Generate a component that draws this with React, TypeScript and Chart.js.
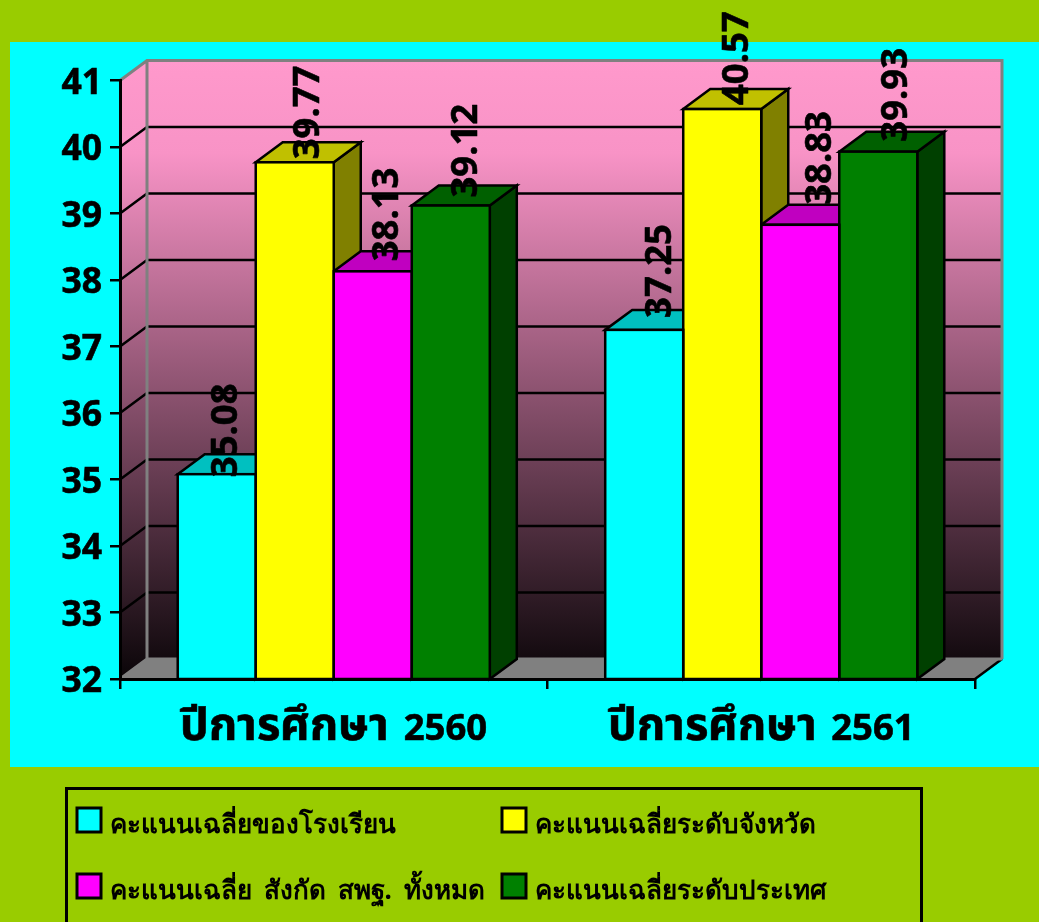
import React, { useEffect, useRef } from "react";
import { Chart, registerables } from "chart.js";

Chart.register(...registerables);

const categories = ["ปีการศึกษา 2560", "ปีการศึกษา 2561"];
const schoolScores = [35.08, 37.25];
const provinceScores = [39.77, 40.57];
const areaScores = [38.13, 38.83];
const nationScores = [39.12, 39.93];
const seriesNames = [
  "คะแนนเฉลี่ยของโรงเรียน",
  "คะแนนเฉลี่ยระดับจังหวัด",
  "คะแนนเฉลี่ย สังกัด สพฐ. ทั้งหมด",
  "คะแนนเฉลี่ยระดับประเทศ",
];
const frontColors = ["#00FFFF", "#FFFF00", "#FF00FF", "#008000"];
const topColors = ["#00C0C0", "#C0C000", "#C000C0", "#006000"];
const sideColors = ["#008080", "#808000", "#800080", "#004000"];
// hand placement of the value labels relative to each bar
const labelDx = [[10, 16], [14, 15], [15, 20], [16, 18]];
const labelDy = [[3, -12], [-3, -4], [-10, -20], [-8, -10]];

const DX = 27;
const DY = -20;
const FONT = '"Noto Sans", sans-serif';
const XFONT = 'ThaiWide, "Noto Sans", sans-serif';

const scene = {
  id: "scene",
  beforeDraw(chart: any) {
    const { ctx, chartArea: a, scales } = chart;
    const y = scales.y;
    ctx.wordSpacing = "5px";
    ctx.save();
    ctx.fillStyle = "#99CC00";
    ctx.fillRect(0, 0, chart.width, chart.height);
    ctx.fillStyle = "#00FFFF";
    ctx.fillRect(10, 42, chart.width - 10, 725);

    const g = ctx.createLinearGradient(0, a.top + DY, 0, a.bottom);
    g.addColorStop(0, "#FF99CC");
    g.addColorStop(0.15, "#F893C6");
    g.addColorStop(1, "#0A0508");
    ctx.fillStyle = g;
    ctx.fillRect(a.left + DX, a.top + DY, a.right - a.left, a.bottom - a.top);

    ctx.beginPath();
    ctx.moveTo(a.left, a.top);
    ctx.lineTo(a.left + DX, a.top + DY);
    ctx.lineTo(a.left + DX, a.bottom + DY);
    ctx.lineTo(a.left, a.bottom);
    ctx.closePath();
    ctx.fill();

    ctx.fillStyle = "#808080";
    ctx.beginPath();
    ctx.moveTo(a.left, a.bottom);
    ctx.lineTo(a.left + DX, a.bottom + DY);
    ctx.lineTo(a.right + DX, a.bottom + DY);
    ctx.lineTo(a.right, a.bottom);
    ctx.closePath();
    ctx.fill();

    ctx.strokeStyle = "#000000";
    ctx.lineWidth = 2.5;
    y.ticks.forEach((t: any) => {
      if (t.value === y.min || t.value === y.max) return;
      const py = y.getPixelForValue(t.value);
      ctx.beginPath();
      ctx.moveTo(a.left, py);
      ctx.lineTo(a.left + DX, py + DY);
      ctx.lineTo(a.right + DX, py + DY);
      ctx.stroke();
    });
    ctx.beginPath();
    ctx.moveTo(a.right + DX, a.bottom + DY);
    ctx.lineTo(a.right, a.bottom);
    ctx.stroke();

    ctx.strokeStyle = "#808080";
    ctx.lineWidth = 3;
    ctx.beginPath();
    ctx.moveTo(a.left, a.top);
    ctx.lineTo(a.left + DX, a.top + DY);
    ctx.lineTo(a.right + DX, a.top + DY);
    ctx.lineTo(a.right + DX, a.bottom + DY);
    ctx.moveTo(a.left + DX, a.top + DY);
    ctx.lineTo(a.left + DX, a.bottom + DY);
    ctx.lineTo(a.right + DX, a.bottom + DY);
    ctx.moveTo(a.left + DX, a.bottom + DY);
    ctx.lineTo(a.left, a.bottom);
    ctx.stroke();
    ctx.restore();
  },
  beforeDatasetsDraw(chart: any) {
    const { ctx, chartArea: a } = chart;
    ctx.save();
    ctx.strokeStyle = "#000000";
    ctx.lineWidth = 2.5;
    ctx.lineJoin = "miter";
    categories.forEach((_, c) => {
      chart.data.datasets.forEach((_d: any, i: number) => {
        const bar = chart.getDatasetMeta(i).data[c];
        const l = bar.x - bar.width / 2;
        const r = bar.x + bar.width / 2;
        const t = bar.y;
        const b = a.bottom;
        ctx.fillStyle = sideColors[i];
        ctx.beginPath();
        ctx.moveTo(r, t);
        ctx.lineTo(r + DX, t + DY);
        ctx.lineTo(r + DX, b + DY);
        ctx.lineTo(r, b);
        ctx.closePath();
        ctx.fill();
        ctx.stroke();
        ctx.fillStyle = topColors[i];
        ctx.beginPath();
        ctx.moveTo(l, t);
        ctx.lineTo(l + DX, t + DY);
        ctx.lineTo(r + DX, t + DY);
        ctx.lineTo(r, t);
        ctx.closePath();
        ctx.fill();
        ctx.stroke();
      });
    });
    ctx.restore();
  },
  afterDatasetsDraw(chart: any) {
    const { ctx, chartArea: a } = chart;
    ctx.save();
    ctx.strokeStyle = "#000000";
    ctx.lineWidth = 2.5;
    chart.data.datasets.forEach((_d: any, i: number) => {
      chart.getDatasetMeta(i).data.forEach((bar: any) => {
        ctx.strokeRect(bar.x - bar.width / 2, bar.y, bar.width, a.bottom - bar.y);
      });
    });
    ctx.fillStyle = "#000000";
    ctx.lineWidth = 0.6;
    ctx.lineJoin = "round";
    ctx.font = `bold 36.5px ${FONT}`;
    ctx.textAlign = "left";
    ctx.textBaseline = "middle";
    chart.data.datasets.forEach((d: any, i: number) => {
      chart.getDatasetMeta(i).data.forEach((bar: any, c: number) => {
        ctx.save();
        ctx.translate(bar.x + labelDx[i][c], bar.y + labelDy[i][c]);
        ctx.rotate(-Math.PI / 2);
        ctx.fillText(d.data[c].toFixed(2), 0, 0);
        ctx.strokeText(d.data[c].toFixed(2), 0, 0);
        ctx.restore();
      });
    });
    ctx.restore();
  },
  afterDraw(chart: any) {
    const { ctx } = chart;
    ctx.save();
    ctx.strokeStyle = "#000000";
    ctx.lineWidth = 3;
    ctx.strokeRect(66.5, 788.5, 855, 160);
    const colX = [77, 502];
    const rowY = [808, 874];
    ctx.font = `bold 26px ${FONT}`;
    ctx.textAlign = "left";
    ctx.textBaseline = "alphabetic";
    seriesNames.forEach((name, i) => {
      const x = colX[i % 2];
      const y = rowY[Math.floor(i / 2)];
      ctx.fillStyle = frontColors[i];
      ctx.fillRect(x, y, 24, 24);
      ctx.lineWidth = 3;
      ctx.strokeRect(x, y, 24, 24);
      ctx.fillStyle = "#000000";
      ctx.fillText(name, x + 33, y + 25);
    });
    ctx.restore();
  },
};

export default function App() {
  const ref = useRef<HTMLCanvasElement>(null);
  useEffect(() => {
    document.body.style.margin = "0";
    const style = document.createElement("style");
    style.textContent =
      '@font-face{font-family:ThaiWide;font-weight:bold;src:local("Noto Sans Thai Bold"),local("NotoSansThai-Bold"),local("Noto Sans Thai");unicode-range:U+0E00-0E7F;size-adjust:124%}';
    document.head.appendChild(style);
    let chart: any = null;
    let dead = false;
    const build = () => {
      if (dead) return;
      chart = new Chart(ref.current!, {
        type: "bar",
        data: {
          labels: categories,
          datasets: [schoolScores, provinceScores, areaScores, nationScores].map((data, i) => ({
            label: seriesNames[i],
            data,
            backgroundColor: frontColors[i],
            borderWidth: 0,
            categoryPercentage: 0.73,
            barPercentage: 1,
          })),
        },
        options: {
          responsive: false,
          animation: false,
          layout: { padding: { top: 80.5, right: 64, bottom: 0, left: 0 } },
          plugins: { legend: { display: false }, tooltip: { enabled: false } },
          scales: {
            x: {
              afterFit: (s: any) => { s.height = 243; },
              grid: { drawOnChartArea: false, color: "#000", lineWidth: 2.5, tickLength: 10 },
              border: { color: "#000", width: 3 },
              ticks: { color: "#000", font: { family: XFONT, size: 36.5, weight: "bold" }, padding: 19, maxRotation: 0, autoSkip: false, textStrokeColor: "#000", textStrokeWidth: 0.6 },
            },
            y: {
              min: 32,
              max: 41,
              afterFit: (s: any) => { s.width = 120; },
              grid: { drawOnChartArea: false, color: "#000", lineWidth: 2.5, tickLength: 10 },
              border: { color: "#000", width: 3 },
              ticks: { stepSize: 1, color: "#000", font: { family: FONT, size: 35.5, weight: "bold" }, padding: 8, labelOffset: 3, textStrokeColor: "#000", textStrokeWidth: 0.6 },
            },
          },
        },
        plugins: [scene],
      } as any);
    };
    document.fonts.load('bold 36px ThaiWide', "ปี").then(build, build);
    return () => { dead = true; chart?.destroy(); style.remove(); };
  }, []);
  return <canvas ref={ref} width={1039} height={922} style={{ display: "block" }} />;
}
